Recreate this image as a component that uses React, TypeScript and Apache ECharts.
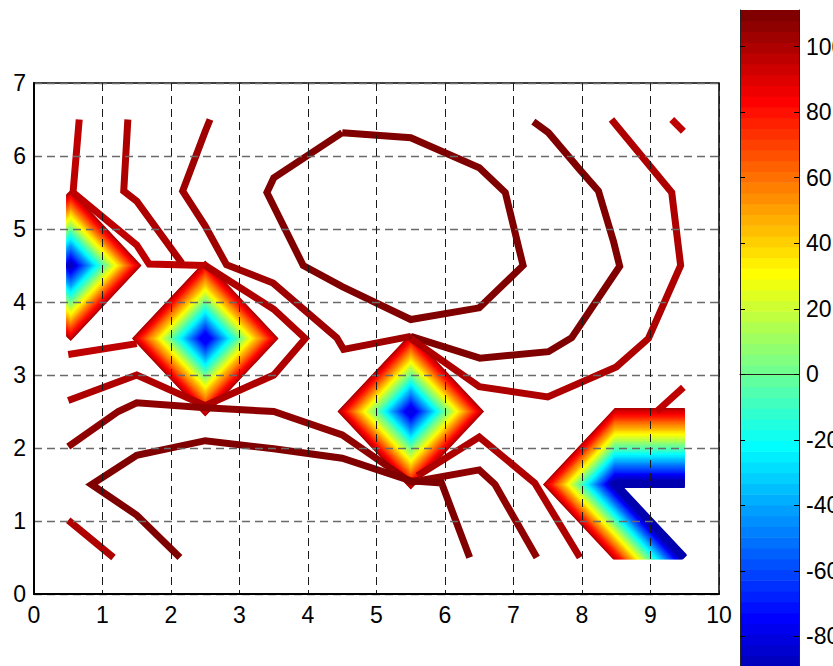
import React, { useEffect, useRef } from "react";
import * as echarts from "echarts";

// ---- axes ----
const xMin = 0;
const xMax = 10;
const yMin = 0;
const yMax = 7;
const colorbarTicks = [-80, -60, -40, -20, 0, 20, 40, 60, 80, 100];
const colorMin = -99;
const colorMax = 111.2;

// data domain of the sampled field
const domainX = [0.5, 9.5];
const domainY = [0.5, 6.5];

// ---- contour lines (x, y) and their levels ----
const contourL1 = [[0.66, 6.5], [0.57, 5.5], [1.5, 4.78], [1.68, 4.52], [2.5, 4.5]];
const contourL2 = [[1.37, 6.5], [1.31, 5.52], [1.5, 5.38], [2.16, 4.53]];
const contourA1 = [[2.57, 6.5], [2.5, 6.34], [2.17, 5.52], [2.5, 5.04], [2.81, 4.51], [3.49, 4.26], [4.42, 3.51], [4.52, 3.35], [5.5, 3.53]];
const contourA2 = [[5.5, 3.53], [6.51, 3.23], [7.51, 3.32], [7.85, 3.51], [8.55, 4.49], [8.46, 4.83], [8.24, 5.52], [7.97, 5.81], [7.51, 6.32], [7.29, 6.47]];
const contourLoop = [[4.5, 6.32], [5.5, 6.25], [6.5, 5.84], [6.88, 5.5], [7.14, 4.5], [6.5, 3.92], [5.5, 3.76], [4.5, 4.21], [3.93, 4.5], [3.4, 5.5], [3.5, 5.7], [4.5, 6.32]];
const contourC = [[5.5, 3.5], [6.5, 2.84], [7.5, 2.7], [8.5, 3.11], [8.97, 3.5], [9.44, 4.5], [9.31, 5.5], [8.43, 6.5]];
const contourD = [[9.31, 6.5], [9.48, 6.34]];
const contourF = [[0.5, 3.28], [1.5, 3.43]];
const contourG = [[0.5, 2.65], [1.5, 3.0], [2.5, 2.58], [3.5, 3.0], [3.96, 3.5], [3.5, 3.9], [2.5, 4.5]];
const contourH = [[0.5, 2.02], [1.23, 2.5], [1.5, 2.62], [2.5, 2.55], [3.5, 2.5], [4.5, 2.18], [5.5, 1.53], [6.5, 1.7], [6.73, 1.5], [7.34, 0.5]];
const contourI = [[2.13, 0.5], [1.5, 1.08], [0.84, 1.5], [1.5, 1.9], [2.5, 2.1], [3.5, 1.99], [4.5, 1.86], [5.5, 1.55], [5.95, 1.52], [6.36, 0.5]];
const contourJ = [[5.6, 1.62], [6.5, 2.15], [7.31, 1.52], [7.97, 0.5]];
const contourL = [[0.5, 1.01], [1.16, 0.5]];
const contourM = [[9.09, 2.5], [9.48, 2.83]];

const contourLines = [contourL1, contourL2, contourA1, contourA2, contourLoop, contourC, contourD, contourF, contourG, contourH, contourI, contourJ, contourL, contourM];
const contourLevels = [98, 101, 104, 108, 111, 101, 98, 98, 101, 107, 111, 101, 101, 98];

// ---- low-value wells: outer boundary, core, values ----
const wellLeftOuter = [[0.5, 5.5], [1.5, 4.5], [0.5, 3.5]];
const wellLeftCore = [[0.5, 4.5], [0.5, 4.5], [0.5, 4.5]];
const wellMidOuter = [[1.5, 3.5], [2.5, 4.5], [3.5, 3.5], [2.5, 2.5]];
const wellMidCore = [[2.5, 3.5], [2.5, 3.5], [2.5, 3.5], [2.5, 3.5]];
const wellCenterOuter = [[4.5, 2.5], [5.5, 3.5], [6.5, 2.5], [5.5, 1.5]];
const wellCenterCore = [[5.5, 2.5], [5.5, 2.5], [5.5, 2.5], [5.5, 2.5]];
const wellRightOuter = [[9.5, 2.5], [8.5, 2.5], [7.5, 1.5], [8.5, 0.5]];
const wellRightCore = [[9.5, 1.5], [8.5, 1.5], [8.5, 1.5], [9.5, 0.5]];

const wellOuters = [wellLeftOuter, wellMidOuter, wellCenterOuter, wellRightOuter];
const wellCores = [wellLeftCore, wellMidCore, wellCenterCore, wellRightCore];
const wellOuterValues = [100, 100, 100, 100];
const wellCoreValues = [-88, -76, -78, -92];
const wellClosed = [false, true, true, false];

// ---- jet colormap (64 entries, MATLAB style) ----
function jetRow(idx: number): string {
  const n = 16;
  const u: number[] = [];
  for (let k = 1; k <= n; k++) u.push(k / n);
  for (let k = 0; k < n - 1; k++) u.push(1);
  for (let k = n; k >= 1; k--) u.push(k / n);
  const row = idx + 1;
  const val = (j: number) => (j >= 1 && j <= u.length ? u[j - 1] : 0);
  const g = val(row - 8);
  const r = val(row - 24);
  const b = val(row + 8);
  const to = (c: number) => Math.round(c * 255);
  return `rgb(${to(r)},${to(g)},${to(b)})`;
}
function valueColor(v: number): string {
  const t = (v - colorMin) / (colorMax - colorMin);
  const idx = Math.max(0, Math.min(63, Math.floor(t * 64)));
  return jetRow(idx);
}

const FONT = "'Liberation Sans', Arial, Helvetica, sans-serif";
const LINE_W = 7;
const BANDS = 110;

export default function App() {
  const ref = useRef<HTMLDivElement>(null);
  useEffect(() => {
    if (!ref.current) return;
    const chart = echarts.init(ref.current, null, { renderer: "svg" });

    const wellSeries = {
      type: "custom",
      xAxisIndex: 0,
      yAxisIndex: 0,
      clip: false,
      silent: true,
      z: 2,
      data: wellOuters.map((_, i) => [i]),
      renderItem: (params: any, api: any) => {
        const i = params.dataIndex;
        const outer = wellOuters[i];
        const core = wellCores[i];
        const children: any[] = [];
        for (let k = 0; k <= BANDS; k++) {
          const t = k / BANDS;
          const pts = outer.map((p, j) =>
            api.coord([p[0] * (1 - t) + core[j][0] * t, p[1] * (1 - t) + core[j][1] * t])
          );
          const v = wellOuterValues[i] + (wellCoreValues[i] - wellOuterValues[i]) * t;
          children.push({
            type: wellClosed[i] ? "polygon" : "polyline",
            shape: { points: pts },
            style: {
              fill: "none",
              stroke: valueColor(v),
              lineWidth: LINE_W,
              lineJoin: "miter",
              lineCap: "butt",
            },
          });
        }
        const c0 = api.coord([domainX[0], domainY[1]]);
        const c1 = api.coord([domainX[1], domainY[0]]);
        const pad = 2;
        return {
          type: "group",
          children,
          clipPath: {
            type: "rect",
            shape: { x: c0[0] - pad, y: c0[1] - 40, width: c1[0] - c0[0] + 2 * pad, height: c1[1] - c0[1] + 40 + pad },
          },
        };
      },
    };

    const lineSeries = contourLines.map((pts, i) => ({
      type: "line",
      xAxisIndex: 0,
      yAxisIndex: 0,
      data: pts,
      symbol: "none",
      silent: true,
      clip: false,
      z: 3,
      lineStyle: { width: LINE_W, color: valueColor(contourLevels[i]), cap: "butt", join: "miter" },
    }));

    const colorbarSteps = Array.from({ length: 64 }, (_, i) => [i]);
    const colorbarSeries = {
      type: "custom",
      xAxisIndex: 1,
      yAxisIndex: 1,
      silent: true,
      clip: false,
      z: 2,
      data: colorbarSteps,
      renderItem: (params: any, api: any) => {
        const i = params.dataIndex;
        const step = (colorMax - colorMin) / 64;
        const lo = colorMin + i * step;
        const hi = lo + step;
        const p1 = api.coord([0, hi]);
        const p2 = api.coord([1, lo]);
        return {
          type: "rect",
          shape: { x: p1[0], y: p1[1], width: p2[0] - p1[0], height: p2[1] - p1[1] + 0.6 },
          style: { fill: jetRow(i) },
        };
      },
    };

    const labelStyle = { color: "#000", fontSize: 23, fontFamily: FONT };

    chart.setOption({
      animation: false,
      textStyle: { fontFamily: FONT },
      grid: [
        { left: 34, top: 83, width: 685, height: 511, show: true, borderColor: "#000", borderWidth: 1.5, backgroundColor: "transparent", containLabel: false, outerBoundsMode: "none" },
        { left: 740, top: 10, width: 59, height: 688.6, show: false, containLabel: false, outerBoundsMode: "none" },
      ],
      xAxis: [
        {
          gridIndex: 0,
          type: "value",
          min: xMin,
          max: xMax,
          interval: 1,
          z: 10,
          axisLine: { show: true, lineStyle: { color: "#000", width: 2 } },
          axisTick: { show: false },
          axisLabel: { ...labelStyle, margin: 9 },
          splitLine: { show: true, lineStyle: { color: "#1a1a1a", width: 1, type: [8, 5] } },
        },
        {
          gridIndex: 1,
          type: "value",
          min: 0,
          max: 1,
          position: "top",
          z: 10,
          axisLine: { show: true, lineStyle: { color: "#222", width: 1 } },
          axisTick: { show: false },
          axisLabel: { show: false },
          splitLine: { show: false },
        },
      ],
      yAxis: [
        {
          gridIndex: 0,
          type: "value",
          min: yMin,
          max: yMax,
          interval: 1,
          z: 10,
          axisLine: { show: true, lineStyle: { color: "#000", width: 2 } },
          axisTick: { show: false },
          axisLabel: { ...labelStyle, margin: 8 },
          splitLine: { show: true, lineStyle: { color: "#6a6a6a", width: 1.3, type: [8, 5] } },
        },
        {
          gridIndex: 1,
          type: "value",
          min: colorMin,
          max: colorMax,
          position: "right",
          z: 10,
          axisLine: { show: true, onZero: false, lineStyle: { color: "#222", width: 1 } },
          axisTick: { show: true, inside: true, length: 5, customValues: colorbarTicks, lineStyle: { color: "#000", width: 1 } },
          axisLabel: { ...labelStyle, margin: 7, customValues: colorbarTicks },
          splitLine: { show: false },
        },
        {
          gridIndex: 1,
          type: "value",
          min: colorMin,
          max: colorMax,
          position: "left",
          z: 10,
          axisLine: { show: true, onZero: false, lineStyle: { color: "#222", width: 1 } },
          axisTick: { show: true, inside: true, length: 5, customValues: colorbarTicks, lineStyle: { color: "#000", width: 1 } },
          axisLabel: { show: false },
          splitLine: { show: false },
        },
      ],
      series: [wellSeries, ...lineSeries, colorbarSeries],
    });

    return () => chart.dispose();
  }, []);

  return (
    <div
      ref={ref}
      style={{ position: "fixed", left: 0, top: 0, width: 833, height: 666, background: "#fff" }}
    />
  );
}
